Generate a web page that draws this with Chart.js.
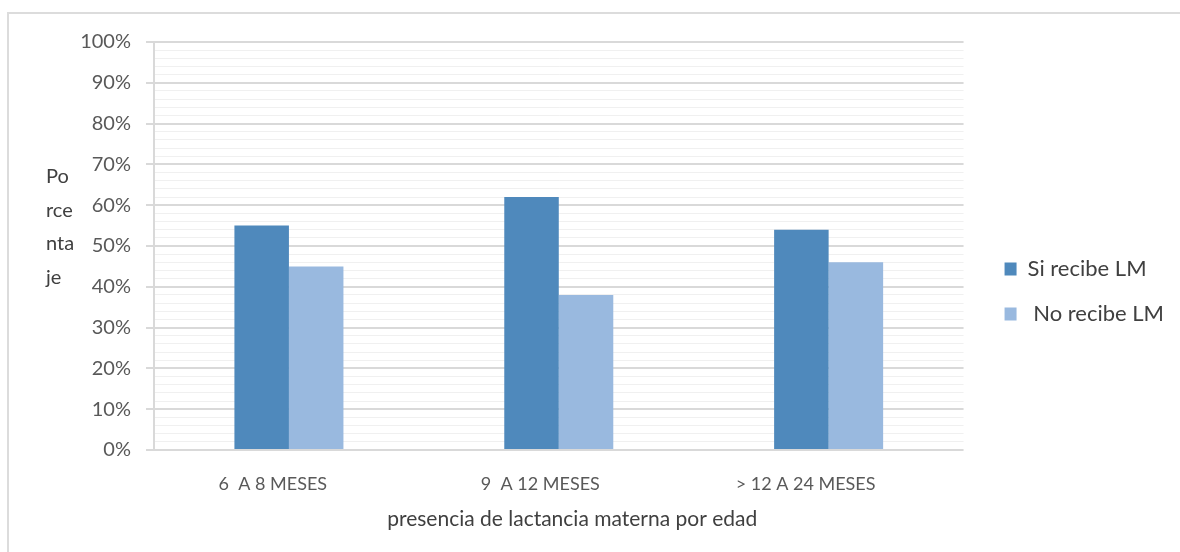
<!DOCTYPE html>
<html>
<head>
<meta charset="utf-8">
<script src="https://cdn.jsdelivr.net/npm/chart.js@4.4.0/dist/chart.umd.min.js"></script>
<style>
html,body{margin:0;padding:0;background:#fff;overflow:hidden;width:1180px;height:552px}
#frame{position:absolute;left:7px;top:12px;width:1200px;height:600px;border:2px solid #dcdcdc;box-sizing:border-box}
#wrap{position:absolute;left:0;top:0;width:1180px;height:552px}
</style>
</head>
<body>
<div id="frame"></div>
<div id="wrap"><canvas id="c"></canvas></div>
<script>
const categories = ['6  A 8 MESES       ', '9  A 12 MESES        ', '> 12 A 24 MESES          '];
const siRecibe = [55, 62, 54];
const noRecibe = [45, 38, 46];
const seriesNames = ['Si recibe LM', ' No recibe LM'];
const seriesColors = ['#4f89bc', '#99b9df'];
const yTitleLines = ['Po', 'rce', 'nta', 'je'];
const xTitle = '     presencia de lactancia materna por edad';
const yMin = 0, yMax = 100, yMinorStep = 2, yMajorStep = 10;

const FONT = 'Lato, "Open Sans", sans-serif';

const yTitlePlugin = {
  id: 'yTitle',
  afterDraw(chart) {
    const ctx = chart.ctx;
    const top = chart.chartArea.top;
    ctx.save();
    ctx.font = '20px ' + FONT;
    ctx.fillStyle = '#404040';
    ctx.textAlign = 'left';
    ctx.textBaseline = 'middle';
    yTitleLines.forEach((t, i) => ctx.fillText(t, 46, top + 135 + i * 33.4));
    ctx.restore();
  }
};

const isMajor = (ctx) => ctx.tick && Math.round(ctx.tick.value) % yMajorStep === 0;

new Chart(document.getElementById('c'), {
  type: 'bar',
  data: {
    labels: categories,
    datasets: [
      { label: seriesNames[0], data: siRecibe, backgroundColor: seriesColors[0], borderWidth: 0 },
      { label: seriesNames[1], data: noRecibe, backgroundColor: seriesColors[1], borderWidth: 0 }
    ]
  },
  options: {
    responsive: true,
    maintainAspectRatio: false,
    animation: false,
    datasets: { bar: { categoryPercentage: 0.404, barPercentage: 1.0 } },
    layout: { padding: { top: 42, left: 0, right: 6, bottom: 11 } },
    plugins: {
      legend: {
        position: 'right',
        align: 'center',
        labels: {
          boxWidth: 12, boxHeight: 13, padding: 23,
          color: '#404040',
          font: { family: FONT, size: 22 }
        }
      },
      tooltip: { enabled: false }
    },
    scales: {
      x: {
        afterFit(s) { s.height = 91; },
        grid: { display: false, drawTicks: false },
        border: { display: false },
        ticks: { color: '#595959', padding: 23, font: { family: FONT, size: 18 } },
        title: { display: true, text: xTitle, color: '#404040', font: { family: FONT, size: 21 }, padding: { top: 15, bottom: 9 } }
      },
      y: {
        min: yMin, max: yMax,
        afterFit(s) { s.width = 154; },
        ticks: {
          stepSize: yMinorStep, autoSkip: false, padding: 15,
          color: '#595959', font: { family: FONT, size: 20 },
          callback: (v) => (Math.round(v) % yMajorStep === 0 ? v + '%' : '')
        },
        grid: {
          color: (ctx) => isMajor(ctx) ? '#d9d9d9' : '#f0f0f0',
          lineWidth: (ctx) => isMajor(ctx) ? 2 : 1,
          tickColor: (ctx) => isMajor(ctx) ? '#d9d9d9' : 'rgba(0,0,0,0)',
          tickLength: 8
        },
        border: { color: '#d9d9d9', width: 2 }
      },
      spacer: {
        type: 'linear',
        position: 'right',
        display: true,
        afterFit(s) { s.width = 18; },
        grid: { display: false, drawTicks: false },
        ticks: { display: false },
        border: { display: false }
      }
    }
  },
  plugins: [yTitlePlugin]
});
</script>
</body>
</html>
